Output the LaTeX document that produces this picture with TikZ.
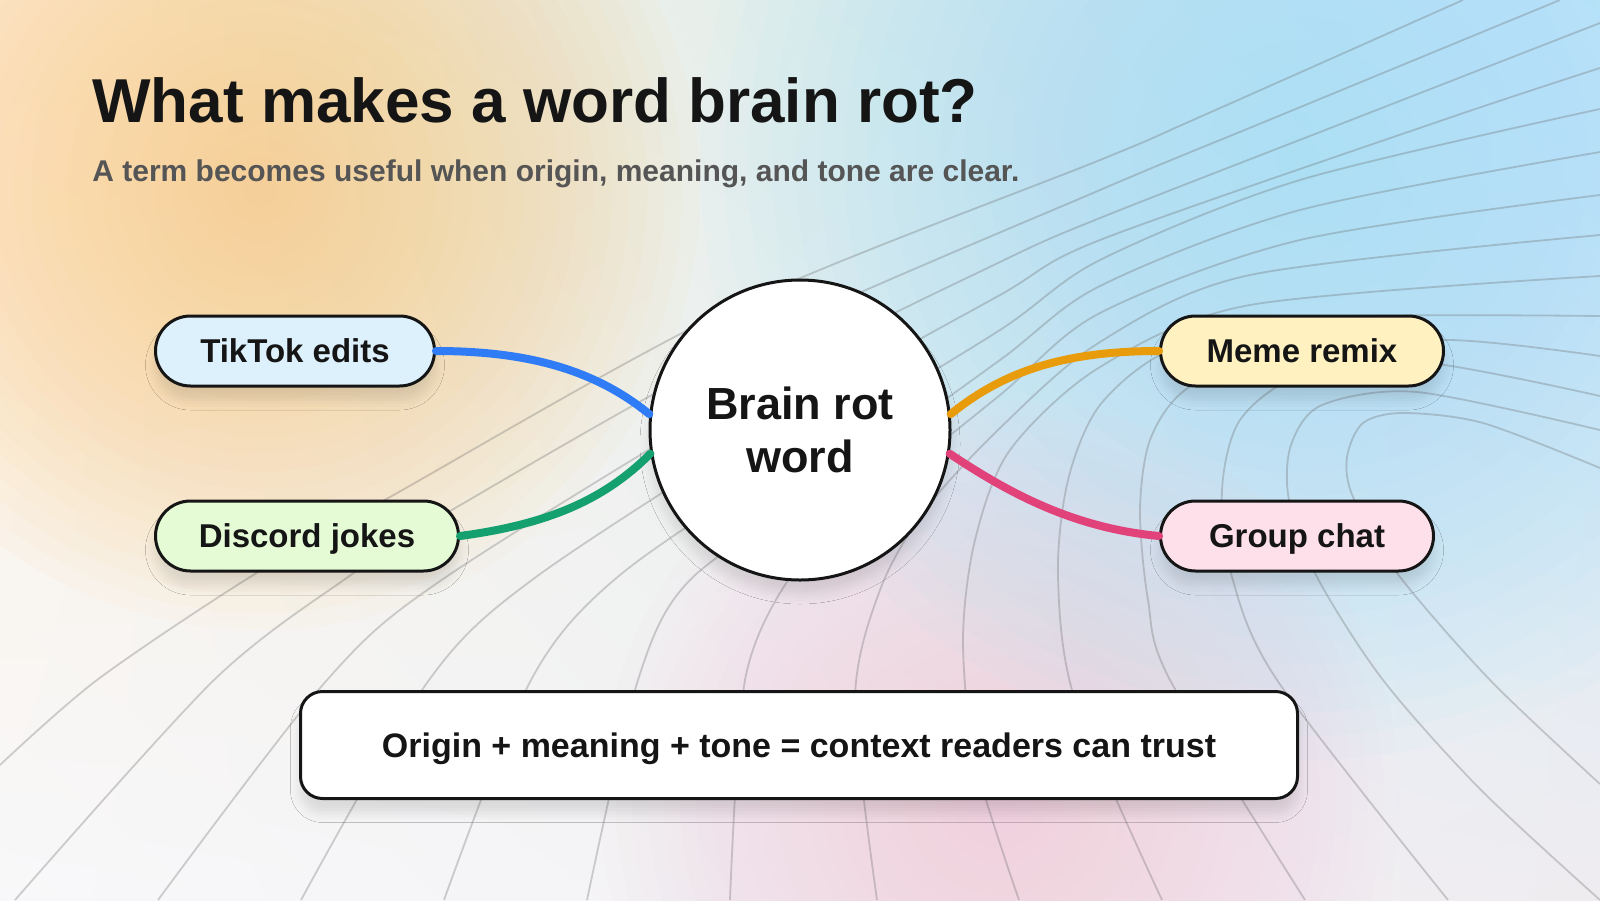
\documentclass[tikz,border=0pt]{standalone}
\usepackage{fontspec}
\setmainfont{Liberation Sans}
\usepackage{tikz}
\usetikzlibrary{positioning, shadings, shadows.blur}
\usepackage{xcolor}
\definecolor{inkblack}{HTML}{151515}
\definecolor{subgray}{HTML}{555555}
\definecolor{bgUL}{HTML}{FCF0DE}
\definecolor{bgUR}{HTML}{CDEDFA}
\definecolor{bgLL}{HTML}{F8F8FA}
\definecolor{bgLR}{HTML}{EFECF0}
\definecolor{glowOrange}{HTML}{FBCD86}
\definecolor{glowBlue}{HTML}{A4DFF8}
\definecolor{glowPink}{HTML}{F0CFDF}
\definecolor{tiktokfill}{HTML}{DDF1FD}
\definecolor{discordfill}{HTML}{E4FBD6}
\definecolor{memefill}{HTML}{FFF1C0}
\definecolor{groupfill}{HTML}{FDE0EA}
\definecolor{linkblue}{HTML}{2F7CF6}
\definecolor{linkgreen}{HTML}{14A06F}
\definecolor{linkorange}{HTML}{E89C0C}
\definecolor{linkpink}{HTML}{E2427A}
\tikzset{
  softshadow/.style={
    blur shadow={shadow xshift=0pt, shadow yshift=-7pt,
      shadow blur radius=5pt, shadow opacity=11}
  },
  pill/.style={
    rectangle, rounded corners=17.5pt, draw=inkblack, line width=1.5pt,
    minimum height=35pt, inner xsep=0pt, inner ysep=0pt,
    text=inkblack, text height=11.9pt, text depth=0pt,
    font=\fontsize{16.5pt}{19pt}\selectfont\bfseries, softshadow
  },
  hub/.style={
    circle, draw=inkblack, line width=1.5pt, fill=white,
    minimum size=150pt, inner sep=0pt, align=center, text=inkblack,
    font=\fontsize{22.5pt}{26.5pt}\selectfont\bfseries, softshadow
  },
  banner/.style={
    rectangle, rounded corners=11pt, draw=inkblack, line width=1.5pt,
    fill=white, minimum width=498.5pt, minimum height=53.5pt,
    text=inkblack, text height=12.2pt, text depth=0pt,
    font=\fontsize{17pt}{20pt}\selectfont\bfseries, softshadow
  },
  glow/.style={fill=#1, fill opacity=0.05},
  link/.style={line width=4pt, line cap=round},
  flowline/.style={draw=black!60, draw opacity=0.3, line width=0.9pt}
}

\begin{document}
\begin{tikzpicture}[x=0.5pt, y=-0.5pt]
  \useasboundingbox (0,0) rectangle (1600,900);
  \begin{scope}
    \clip (0,0) rectangle (1600,900);
    \shade[upper left=bgUL, upper right=bgUR, lower left=bgLL, lower right=bgLR]
      (0,0) rectangle (1600,900);
    \foreach \k in {1,...,25} {
      \fill[glow=glowOrange] (260,190) circle [radius=\k*8.8pt];
      \fill[glow=glowBlue] (1300,160) circle [radius=\k*12pt];
      \fill[glow=glowPink] (1000,800) circle [radius=\k*8pt];
    }

    \draw[flowline] plot[smooth] coordinates {(1600,784) (1490,680) (1397,573) (1353,497) (1347,457) (1363,423) (1403,413) (1483,423) (1600,468)};
    \draw[flowline] plot[smooth] coordinates {(1600,900) (1480,789) (1383,680) (1317,577) (1289,500) (1291,445) (1322,405) (1417,392) (1600,430)};
    \draw[flowline] plot[smooth] coordinates {(1448,900) (1277,680) (1232,577) (1222,490) (1240,420) (1300,376) (1420,362) (1600,396)};
    \draw[flowline] plot[smooth] coordinates {(1305,900) (1170,680) (1148,600) (1140,510) (1150,440) (1185,390) (1270,350) (1450,340) (1600,356)};
    \draw[flowline] plot[smooth] coordinates {(1162,900) (1075,700) (1058,577) (1068,480) (1100,405) (1170,350) (1300,318) (1600,316)};
    \draw[flowline] plot[smooth] coordinates {(1019,900) (975,760) (963,640) (975,540) (1010,450) (1100,367) (1250,305) (1600,276)};
    \draw[flowline] plot[smooth] coordinates {(877,900) (855,700) (880,590) (925,510) (1000,428) (1100,342) (1250,275) (1600,235)};
    \draw[flowline] plot[smooth] coordinates {(730,900) (745,680) (790,577) (850,517) (1000,395) (1100,313) (1300,240) (1600,195)};
    \draw[flowline] plot[smooth] coordinates {(587,900) (638,680) (690,580) (830,482) (1000,360) (1100,286) (1300,210) (1600,152)};
    \draw[flowline] plot[smooth] coordinates {(444,900) (531,680) (620,575) (810,447) (1000,330) (1100,260) (1300,180) (1600,109)};
    \draw[flowline] plot[smooth] coordinates {(301,900) (429,680) (536,577) (790,413) (1000,295) (1100,240) (1443,120) (1600,68)};
    \draw[flowline] plot[smooth] coordinates {(158,900) (327,680) (446,577) (770,378) (1000,262) (1100,218) (1351,120) (1600,23)};
    \draw[flowline] plot[smooth] coordinates {(15,900) (214,680) (348,577) (457,507) (750,343) (1100,190) (1269,120) (1560,0)};
    \draw[flowline] plot[smooth] coordinates {(0,765) (97,680) (250,577) (390,497) (730,309) (1100,160) (1193,120) (1463,0)};
  \end{scope}

  \node[anchor=base west, inner sep=0pt, text=inkblack,
    font=\fontsize{31pt}{36pt}\selectfont\bfseries] (title) at (92,122)
    {What makes a word brain rot?};
  \node[anchor=base west, inner sep=0pt, text=subgray,
    font=\fontsize{15pt}{18pt}\selectfont\bfseries] (subtitle) at (92,181)
    {A term becomes useful when origin, meaning, and tone are clear.};

  \node[hub] (brain) at (800,430) {Brain rot\\word};
  \node[pill, fill=tiktokfill, minimum width=139.5pt, anchor=west] (tiktok) at (154,351) {TikTok edits};
  \node[pill, fill=discordfill, minimum width=151.5pt, anchor=west] (discord) at (154,536) {Discord jokes};
  \node[pill, fill=memefill, minimum width=141.5pt, anchor=west] (meme) at (1159,351) {Meme remix};
  \node[pill, fill=groupfill, minimum width=136.5pt, anchor=west] (group) at (1159,536) {Group chat};
  \node[banner] (summary) at (799,745) {Origin + meaning + tone = context readers can trust};

  \draw[link, draw=linkblue] (tiktok.east) .. controls +(90,0) and +(-55,-45) .. (brain.174);
  \draw[link, draw=linkgreen] (discord.east) .. controls +(90,-12) and +(-45,45) .. (brain.189);
  \draw[link, draw=linkorange] (brain.6) .. controls +(55,-45) and +(-90,0) .. (meme.west);
  \draw[link, draw=linkpink] (brain.351) .. controls +(60,40) and +(-85,-8) .. (group.west);
\end{tikzpicture}
\end{document}
